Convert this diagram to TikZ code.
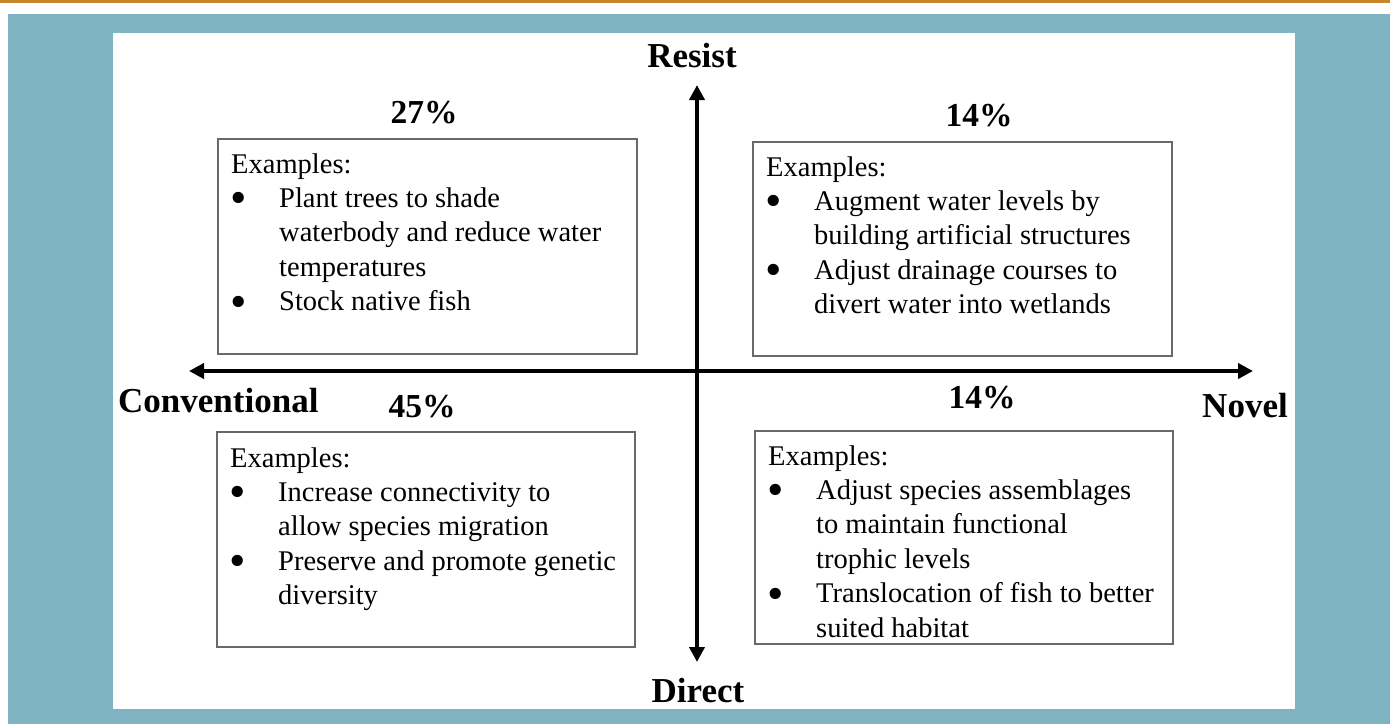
\documentclass[tikz,border=0pt]{standalone}
\usepackage{fontspec}
\usepackage{graphicx}
\setmainfont{Liberation Serif}
\usetikzlibrary{arrows.meta}
\definecolor{tealbg}{RGB}{128,179,193}
\definecolor{orangebar}{RGB}{200,134,42}
\definecolor{boxline}{RGB}{105,105,105}
\newcommand{\bodyfont}{\fontsize{28.5}{34.4}\selectfont}
\newcommand{\blt}{\hspace*{-1pt}\raisebox{-6.5pt}{\scalebox{1.65}{\textbullet}}}
\tikzset{
  qbox/.style={draw=boxline, line width=1.3pt, fill=white, inner sep=0pt},
  qtext/.style={anchor=base west, inner sep=0pt, font=\bodyfont, align=left},
  pct/.style={anchor=base, inner sep=0pt, font=\fontsize{33.5}{40}\selectfont\bfseries},
  axlab/.style={anchor=base, inner sep=0pt, font=\fontsize{35}{42}\selectfont\bfseries},
  axis/.style={line width=4pt, {Triangle[length=15pt,width=15pt]}-{Triangle[length=15pt,width=15pt]}}
}
\begin{document}
\begin{tikzpicture}[x=1pt,y=-1pt]
\useasboundingbox (0,0) rectangle (1390,724);
% background
\fill[white] (0,0) rectangle (1390,724);
\fill[orangebar] (0,0) rectangle (1390,3);
\fill[tealbg] (8,14) rectangle (1390,724);
\fill[white] (113,33) rectangle (1295,709);

% boxes
\node[qbox, minimum width=419pt, minimum height=215pt] (tl) at (427.5,246.5) {};
\node[qbox, minimum width=419pt, minimum height=214pt] (tr) at (962.5,249) {};
\node[qbox, minimum width=418pt, minimum height=215pt] (bl) at (426,539.5) {};
\node[qbox, minimum width=418pt, minimum height=213pt] (br) at (964,537.5) {};

% box texts
\node[qtext] (tlt) at (231,173) {\begin{tabular}[t]{@{}p{48pt}@{}l@{}}
\multicolumn{2}{@{}l@{}}{Examples:}\\
\blt & Plant trees to shade\\
 & waterbody and reduce water\\
 & temperatures\\
\blt & Stock native fish
\end{tabular}};
\node[qtext] (trt) at (766,176) {\begin{tabular}[t]{@{}p{48pt}@{}l@{}}
\multicolumn{2}{@{}l@{}}{Examples:}\\
\blt & Augment water levels by\\
 & building artificial structures\\
\blt & Adjust drainage courses to\\
 & divert water into wetlands
\end{tabular}};
\node[qtext] (blt) at (230,467) {\begin{tabular}[t]{@{}p{48pt}@{}l@{}}
\multicolumn{2}{@{}l@{}}{Examples:}\\
\blt & Increase connectivity to\\
 & allow species migration\\
\blt & Preserve and promote genetic\\
 & diversity
\end{tabular}};
\node[qtext] (brt) at (768,465) {\begin{tabular}[t]{@{}p{48pt}@{}l@{}}
\multicolumn{2}{@{}l@{}}{Examples:}\\
\blt & Adjust species assemblages\\
 & to maintain functional\\
 & trophic levels\\
\blt & Translocation of fish to better\\
 & suited habitat
\end{tabular}};

% percentages
\node[pct] (ptl) at (424,123) {27\%};
\node[pct] (ptr) at (979,126) {14\%};
\node[pct] (pbl) at (422,417) {45\%};
\node[pct] (pbr) at (982,408) {14\%};

% axes
\coordinate (west) at (189,371);
\coordinate (east) at (1253,371);
\coordinate (north) at (697,85);
\coordinate (south) at (697,662);
\draw[axis] (west) -- (east);
\draw[axis] (north) -- (south);

% axis labels
\node[axlab] (resist) at (692,67) {Resist};
\node[axlab] (direct) at (698,702) {Direct};
\node[axlab, anchor=base west] (conv) at (118,412) {Conventional};
\node[axlab] (novel) at (1245,417) {Novel};
\end{tikzpicture}
\end{document}
